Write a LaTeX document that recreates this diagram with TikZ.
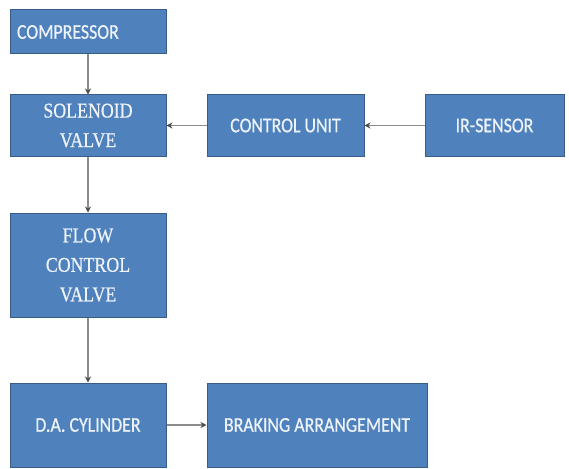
\documentclass[tikz,border=0pt]{standalone}
\usepackage{fontspec}
\usetikzlibrary{arrows.meta}
\newfontfamily\boxsans[FakeStretch=0.85,FakeBold=0.6]{Carlito}
\newfontfamily\boxserif[FakeStretch=0.85,FakeBold=0.6]{Liberation Serif}
\definecolor{boxfill}{HTML}{4F81BD}
\definecolor{boxline}{HTML}{385D8A}
\definecolor{boxtext}{HTML}{EEF3FA}
\definecolor{linkgray}{HTML}{8C8C8C}
\tikzset{
  blockbox/.style={draw=boxline, line width=1pt, fill=boxfill, text=boxtext,
    inner sep=0pt, align=center, font={\boxsans\fontsize{21}{29}\selectfont}},
  serifbox/.style={blockbox, font={\boxserif\fontsize{21}{29.5}\selectfont}},
  link/.style={draw=linkgray, line width=1.2pt,
    -{Stealth[length=6pt,width=6pt,color=black!70]}}
}
\begin{document}
\begin{tikzpicture}[x=1pt,y=1pt]
\useasboundingbox (0,0) rectangle (569,-468);
\node[blockbox, minimum height=44pt, text width=142pt, inner xsep=7pt, align=left] (comp) at (88,-32) {COMPRESSOR};
\node[serifbox, minimum width=156pt, minimum height=61pt] (sol) at (88,-125.5) {SOLENOID\\VALVE};
\node[blockbox, minimum width=157pt, minimum height=61pt] (ctrl) at (285.5,-125.5) {CONTROL UNIT};
\node[blockbox, minimum width=139pt, minimum height=61pt] (ir) at (494.5,-125.5) {IR-SENSOR};
\node[serifbox, minimum width=156pt, minimum height=104pt] (flow) at (88,-265) {FLOW\\CONTROL\\VALVE};
\node[blockbox, minimum width=156pt, minimum height=84pt] (cyl) at (88,-425) {D.A. CYLINDER};
\node[blockbox, minimum width=220pt, minimum height=84pt] (brk) at (317,-425) {BRAKING ARRANGEMENT};
\draw[link] (comp) -- (sol);
\draw[link] (ctrl) -- (sol);
\draw[link] (ir) -- (ctrl);
\draw[link] (sol) -- (flow);
\draw[link] (flow) -- (cyl);
\draw[link] (cyl) -- (brk);
\end{tikzpicture}
\end{document}
